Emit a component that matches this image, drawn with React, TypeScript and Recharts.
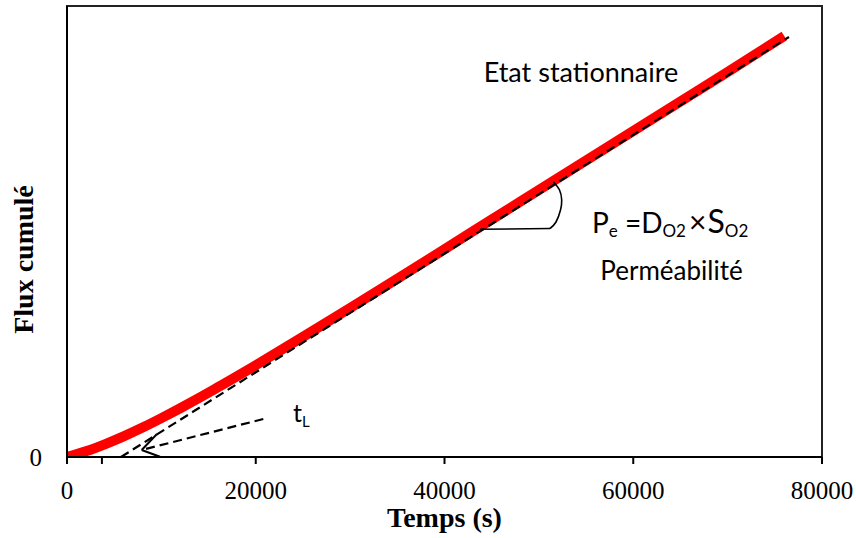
import {
  LineChart,
  Line,
  XAxis,
  YAxis,
  Label,
  ReferenceArea,
  ReferenceLine,
  ReferenceDot,
} from 'recharts';

// cumulative flux curve (red), time in s, flux in arbitrary units
const times = [0, 2000, 4000, 6000, 8000, 10000, 12000, 14000, 16000, 18000, 20000, 25000, 30000, 35000, 40000, 45000, 50000, 55000, 60000, 65000, 70000, 76000];
const flux = [0, 5.7, 12.7, 20.6, 29.4, 38.9, 48.8, 59.1, 69.8, 80.6, 91.7, 120.1, 149, 178.2, 207.7, 237.5, 267, 296.5, 326, 355.5, 385, 421];

// steady-state asymptote (dashed), its intercept gives the time lag
const asymTimes = [5722, 76502];
const asymFlux = [0, 420];

// angle arc next to the slope
const arcTimes = [51179, 51815, 52292, 52419, 52186, 51529];
const arcFlux = [228.5, 235, 247, 257, 267, 275.3];
const arcBase = [
  { x: 43762, y: 227.7 },
  { x: 51179, y: 228.5 },
];

// t_L arrow
const arrowLine = [
  { x: 20800, y: 38 },
  { x: 7915, y: 7 },
];
const arrowHeadA = [
  { x: 7915, y: 7 },
  { x: 9505, y: 22.7 },
];
const arrowHeadB = [
  { x: 7915, y: 7 },
  { x: 9854, y: 0.3 },
];

const xTicks = [0, 3700, 20000, 40000, 60000, 80000];
const tlMark = 3700;
const yTicks = [0];
const X_MAX = 80000;
const Y_MAX = 451;

const curve = times.map((t, i) => ({ t, q: flux[i] }));
const asym = asymTimes.map((t, i) => ({ t, q: asymFlux[i] }));
const arc = arcTimes.map((t, i) => ({ t, q: arcFlux[i] }));

const serif = 'Liberation Serif, Times New Roman, serif';
const sans = 'Lato, Open Sans, sans-serif';

function TextAt(text: React.ReactNode, anchor: 'start' | 'middle' = 'start', size = 26) {
  return (props: any) => {
    const vb = props.viewBox || { x: 0, y: 0 };
    return (
      <text x={vb.x} y={vb.y} textAnchor={anchor} fontFamily={sans} fontSize={size} fill="#000">
        {text}
      </text>
    );
  };
}

const formula = (
  <>
    <tspan fontSize={28}>P</tspan>
    <tspan fontSize={17} dy={4}>e</tspan>
    <tspan fontSize={28} dy={-4}> =D</tspan>
    <tspan fontSize={17} dy={4}>O2</tspan>
    <tspan fontSize={30} dy={-4} dx={3}>×</tspan>
    <tspan fontSize={32} dx={1}>S</tspan>
    <tspan fontSize={17} dy={4}>O2</tspan>
  </>
);

const tl = (
  <>
    <tspan fontSize={25}>t</tspan>
    <tspan fontSize={15} dy={5}>L</tspan>
  </>
);

export default function App() {
  return (
    <div style={{ position: 'absolute', left: 0, top: 0, width: 856, height: 538, background: '#fff' }}>
      <LineChart width={856} height={538} margin={{ top: 6, right: 34, left: 0, bottom: 0 }}>
        <XAxis
          type="number"
          dataKey="t"
          domain={[0, X_MAX]}
          ticks={xTicks}
          tickFormatter={(v) => (v === tlMark ? '' : String(v))}
          height={81}
          tickSize={7}
          tickMargin={17}
          tick={{ fontFamily: serif, fontSize: 25, fill: '#000' }}
          axisLine={{ stroke: '#000', strokeWidth: 2 }}
          tickLine={{ stroke: '#000', strokeWidth: 2 }}
          allowDataOverflow
        >
          <Label
            content={(props: any) => {
              const vb = props.viewBox || { x: 67, y: 457, width: 755 };
              return (
                <text x={vb.x + vb.width / 2} y={527} textAnchor="middle" fontFamily={serif} fontWeight="bold" fontSize={28} fill="#000">
                  Temps (s)
                </text>
              );
            }}
          />
        </XAxis>
        <YAxis
          type="number"
          domain={[0, Y_MAX]}
          ticks={yTicks}
          width={67}
          tickLine={false}
          tickSize={0}
          tickMargin={25}
          tick={{ fontFamily: serif, fontSize: 25, fill: '#000' }}
          axisLine={{ stroke: '#000', strokeWidth: 2 }}
          allowDataOverflow
        >
          <Label
            content={() => (
              <text x={33} y={259.5} transform="rotate(-90 33 259.5)" textAnchor="middle" fontFamily={serif} fontWeight="bold" fontSize={28} fill="#000">
                Flux cumulé
              </text>
            )}
          />
        </YAxis>

        <ReferenceArea x1={0} x2={X_MAX} y1={0} y2={Y_MAX} fill="none" stroke="#222" strokeWidth={2} ifOverflow="visible" />

        <Line data={curve} dataKey="q" type="monotone" stroke="#ff0000" strokeWidth={10} dot={false} isAnimationActive={false} />
        <Line data={asym} dataKey="q" type="linear" stroke="#000" strokeWidth={2.2} strokeDasharray="9 5" dot={false} isAnimationActive={false} />
        <Line data={arc} dataKey="q" type="natural" stroke="#000" strokeWidth={1.6} dot={false} isAnimationActive={false} />

        <ReferenceLine segment={arcBase} stroke="#000" strokeWidth={1.6} ifOverflow="visible" />
        <ReferenceLine segment={arrowLine} stroke="#000" strokeWidth={2.2} strokeDasharray="9 5" ifOverflow="visible" />
        <ReferenceLine segment={arrowHeadA} stroke="#000" strokeWidth={2} ifOverflow="visible" />
        <ReferenceLine segment={arrowHeadB} stroke="#000" strokeWidth={2} ifOverflow="visible" />

        <ReferenceDot x={54463} y={375} r={0} fill="none" stroke="none" label={{ content: TextAt('Etat stationnaire', 'middle', 27) }} ifOverflow="visible" />
        <ReferenceDot x={55630} y={224} r={0} fill="none" stroke="none" label={{ content: TextAt(formula, 'start') }} ifOverflow="visible" />
        <ReferenceDot x={64053} y={177} r={0} fill="none" stroke="none" label={{ content: TextAt('Perméabilité', 'middle', 26) }} ifOverflow="visible" />
        <ReferenceDot x={23947} y={35} r={0} fill="none" stroke="none" label={{ content: TextAt(tl, 'start') }} ifOverflow="visible" />
      </LineChart>
    </div>
  );
}
